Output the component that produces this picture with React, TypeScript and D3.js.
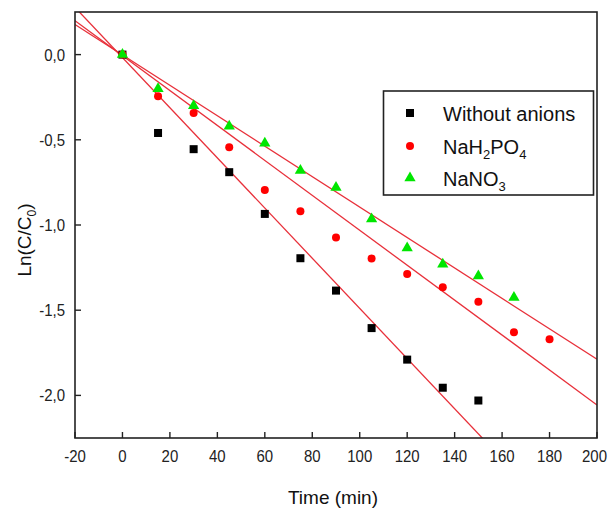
import React, { useLayoutEffect } from "react";
import * as d3 from "d3";

const times = [0, 15, 30, 45, 60, 75, 90, 105, 120, 135, 150, 165, 180];
const withoutAnions = [0, -0.46, -0.555, -0.69, -0.935, -1.195, -1.385, -1.605, -1.79, -1.955, -2.03];
const naH2PO4 = [0, -0.245, -0.343, -0.543, -0.794, -0.92, -1.073, -1.196, -1.288, -1.366, -1.45, -1.63, -1.67];
const naNO3 = [0, -0.2, -0.3, -0.42, -0.52, -0.68, -0.78, -0.965, -1.135, -1.23, -1.3, -1.425];

// linear fits: [intercept, slope]
const fitWithout = [-0.0175, -0.01472];
const fitH2PO4 = [-0.006, -0.01025];
const fitNO3 = [-0.002, -0.00893];

const xTicks = [-20, 0, 20, 40, 60, 80, 100, 120, 140, 160, 180, 200];
const yTicks = [0, -0.5, -1.0, -1.5, -2.0];

const W = 608, H = 510;
const L = 75, T = 12, R = 597, B = 438;

const FONT = "'Liberation Sans', Arial, sans-serif";

export default function App() {
  useLayoutEffect(() => {
    document.body.style.margin = "0";
  }, []);

  const x = d3.scaleLinear().domain([-20, 200]).range([L, R]);
  const y = d3.scaleLinear().domain([-2.25, 0.25]).range([B, T]);

  const fits = [fitWithout, fitH2PO4, fitNO3];
  const line = d3.line<[number, number]>().x(d => x(d[0])).y(d => y(d[1]));

  const tri = d3.symbol().type(d3.symbolTriangle).size(55)();

  const fmt = (v: number) => d3.format(".1f")(v).replace("−", "-").replace(".", ",");

  return (
    <svg width={W} height={H} style={{ display: "block", background: "#fff" }} fontFamily={FONT}>
      <defs>
        <clipPath id="plot">
          <rect x={L} y={T} width={R - L} height={B - T} />
        </clipPath>
      </defs>
      {/* fit lines */}
      <g clipPath="url(#plot)">
        {fits.map((f, i) => (
          <path key={i} d={line([[-20, f[0] + f[1] * -20], [200, f[0] + f[1] * 200]]) || ""}
            stroke="#e8303a" strokeWidth={1.3} fill="none" />
        ))}
      </g>
      {/* markers */}
      {withoutAnions.map((v, i) => (
        <rect key={"b" + i} x={x(times[i]) - 4} y={y(v) - 4} width={8} height={8} fill="#000" />
      ))}
      {naH2PO4.map((v, i) => (
        <circle key={"r" + i} cx={x(times[i])} cy={y(v)} r={4} fill="#ff0000" />
      ))}
      {naNO3.map((v, i) => (
        <path key={"g" + i} d={tri || ""} transform={`translate(${x(times[i])},${y(v)})`} fill="#00e600" />
      ))}
      {/* frame */}
      <rect x={L} y={T} width={R - L} height={B - T} fill="none" stroke="#222" strokeWidth={1.6} />
      {/* x ticks */}
      {xTicks.map(t => {
        const last = t === 200;
        return (
          <g key={"xt" + t}>
            <line x1={x(t)} x2={x(t)} y1={B} y2={B - 6} stroke="#222" strokeWidth={1.4} />
            <g transform={`translate(${last ? W - 1 : x(t)},${B + 24}) scale(1,1.12)`}>
              <text textAnchor={last ? "end" : "middle"} fontSize={15} fill="#222">{t < 0 ? "-" + Math.abs(t) : t}</text>
            </g>
          </g>
        );
      })}
      {/* y ticks */}
      {yTicks.map(t => (
        <g key={"yt" + t}>
          <line x1={L} x2={L + 6} y1={y(t)} y2={y(t)} stroke="#222" strokeWidth={1.4} />
          <g transform={`translate(${L - 10},${y(t) + 6}) scale(1,1.12)`}>
            <text textAnchor="end" fontSize={15} fill="#222">{fmt(t)}</text>
          </g>
        </g>
      ))}
      {/* axis titles */}
      <text x={333} y={504} textAnchor="middle" fontSize={19} fill="#111">Time (min)</text>
      <text transform={`translate(31,240) rotate(-90)`} textAnchor="middle" fontSize={19} fill="#111">
        Ln(C/C<tspan fontSize={12} dy={5}>0</tspan><tspan dy={-5}>)</tspan>
      </text>
      {/* legend */}
      <rect x={383.5} y={91} width={210} height={104} fill="#fff" stroke="#222" strokeWidth={1.6} />
      <rect x={406} y={109} width={8} height={8} fill="#000" />
      <text x={443} y={121} fontSize={20} fill="#111">Without anions</text>
      <circle cx={410} cy={146} r={4} fill="#ff0000" />
      <text x={443} y={154} fontSize={20} fill="#111">
        NaH<tspan fontSize={13} dy={5}>2</tspan><tspan dy={-5}>PO</tspan><tspan fontSize={13} dy={5}>4</tspan>
      </text>
      <path d={tri || ""} transform={`translate(410,178)`} fill="#00e600" />
      <text x={443} y={186} fontSize={20} fill="#111">
        NaNO<tspan fontSize={13} dy={5}>3</tspan>
      </text>
    </svg>
  );
}
